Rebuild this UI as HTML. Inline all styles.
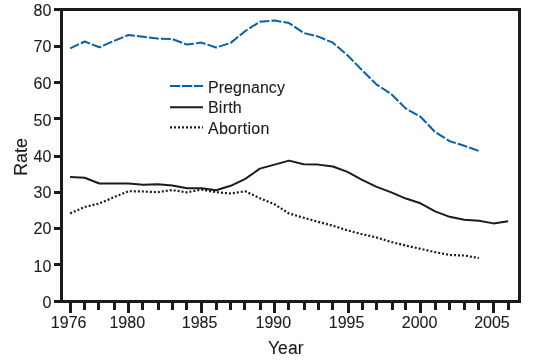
<!DOCTYPE html>
<html><head><meta charset="utf-8"><style>
html,body{margin:0;padding:0;background:#fff;}
body{width:533px;height:362px;overflow:hidden;position:relative;}
svg{position:absolute;left:0;top:0;will-change:transform;}
text{font-family:"Liberation Sans",sans-serif;fill:#1e1a1b;stroke:#1e1a1b;stroke-width:0.1px;}
</style></head><body>
<svg width="533" height="362" viewBox="0 0 533 362">
<g fill="#1e1a1b" shape-rendering="crispEdges">
<rect x="60" y="8" width="461" height="3"/>
<rect x="60" y="300" width="461" height="3"/>
<rect x="60" y="8" width="3" height="295"/>
<rect x="518" y="8" width="3" height="295"/>
<rect x="54" y="8" width="6" height="3"/>
<rect x="54" y="45" width="6" height="3"/>
<rect x="54" y="81" width="6" height="3"/>
<rect x="54" y="117" width="6" height="3"/>
<rect x="54" y="155" width="6" height="3"/>
<rect x="54" y="191" width="6" height="3"/>
<rect x="54" y="227" width="6" height="3"/>
<rect x="54" y="263" width="6" height="3"/>
<rect x="54" y="300" width="6" height="3"/>
<rect x="69" y="303" width="3" height="10"/>
<rect x="83" y="303" width="3" height="7"/>
<rect x="97" y="303" width="3" height="7"/>
<rect x="113" y="303" width="3" height="7"/>
<rect x="127" y="303" width="3" height="10"/>
<rect x="141" y="303" width="3" height="7"/>
<rect x="157" y="303" width="3" height="7"/>
<rect x="171" y="303" width="3" height="7"/>
<rect x="185" y="303" width="3" height="7"/>
<rect x="200" y="303" width="3" height="10"/>
<rect x="215" y="303" width="3" height="7"/>
<rect x="229" y="303" width="3" height="7"/>
<rect x="243" y="303" width="3" height="7"/>
<rect x="259" y="303" width="3" height="7"/>
<rect x="273" y="303" width="3" height="10"/>
<rect x="287" y="303" width="3" height="7"/>
<rect x="303" y="303" width="3" height="7"/>
<rect x="317" y="303" width="3" height="7"/>
<rect x="331" y="303" width="3" height="7"/>
<rect x="347" y="303" width="3" height="10"/>
<rect x="361" y="303" width="3" height="7"/>
<rect x="375" y="303" width="3" height="7"/>
<rect x="391" y="303" width="3" height="7"/>
<rect x="404" y="303" width="3" height="7"/>
<rect x="419" y="303" width="3" height="10"/>
<rect x="434" y="303" width="3" height="7"/>
<rect x="448" y="303" width="3" height="7"/>
<rect x="463" y="303" width="3" height="7"/>
<rect x="477" y="303" width="3" height="7"/>
<rect x="492" y="303" width="3" height="10"/>
<rect x="507" y="303" width="3" height="7"/>
</g>
<g font-size="16">
<text x="51.3" y="16" text-anchor="end">80</text><text x="51.3" y="52" text-anchor="end">70</text><text x="51.3" y="89" text-anchor="end">60</text><text x="51.3" y="126" text-anchor="end">50</text><text x="51.3" y="162" text-anchor="end">40</text><text x="51.3" y="198" text-anchor="end">30</text><text x="51.3" y="234" text-anchor="end">20</text><text x="51.3" y="272" text-anchor="end">10</text><text x="51.3" y="308" text-anchor="end">0</text>
<text x="50.85" y="328">1976</text><text x="109.45" y="328">1980</text><text x="181.8" y="328">1985</text><text x="255.55" y="328">1990</text><text x="328.8" y="328">1995</text><text x="401.8" y="328">2000</text><text x="474.17" y="328">2005</text>
</g>
<text x="268" y="354" font-size="17.6">Year</text>
<text transform="translate(27.2,176) rotate(-90)" font-size="18">Rate</text>
<g fill="none" stroke-linejoin="round">
<polyline points="70.10,48.30 84.70,41.50 99.30,47.30 113.90,40.90 128.50,35.00 143.10,36.80 157.70,38.60 172.30,39.00 186.90,44.60 201.50,42.60 216.10,47.50 230.70,42.90 245.30,31.00 259.90,21.70 274.50,20.50 289.10,23.10 303.70,33.00 318.30,36.60 332.90,42.70 347.50,55.30 362.10,70.20 376.70,84.60 391.30,94.10 405.90,108.60 420.50,116.70 435.10,132.00 449.70,141.20 464.30,145.80 478.90,151.00" stroke="#0560ad" stroke-width="2.0" stroke-dasharray="9.9,2.13" stroke-dashoffset="0.11"/>
<polyline points="70.10,177.03 84.70,177.77 99.30,183.50 113.90,183.50 128.50,183.50 143.10,184.70 157.70,184.33 172.30,185.43 186.90,188.35 201.50,188.35 216.10,190.18 230.70,185.80 245.30,178.86 259.90,168.64 274.50,164.62 289.10,160.61 303.70,164.26 318.30,164.62 332.90,166.45 347.50,171.93 362.10,179.96 376.70,186.89 391.30,192.37 405.90,198.57 420.50,203.31 435.10,211.34 449.70,216.82 464.30,219.74 478.90,220.83 493.50,223.39 508.10,221.20" stroke="#1e1a1b" stroke-width="2.0"/>
<polyline points="70.10,213.40 84.70,207.00 99.30,203.50 113.90,197.20 128.50,191.20 143.10,191.50 157.70,192.20 172.30,190.00 186.90,192.40 201.50,189.60 216.10,192.20 230.70,193.50 245.30,191.30 259.90,198.20 274.50,204.30 289.10,213.50 303.70,217.70 318.30,221.90 332.90,225.70 347.50,230.40 362.10,234.20 376.70,237.50 391.30,242.00 405.90,245.60 420.50,248.80 435.10,252.10 449.70,255.00 464.30,255.50 478.90,258.10" stroke="#1e1a1b" stroke-width="2.2" stroke-dasharray="2,2" stroke-dashoffset="0"/>
<line x1="170" y1="86" x2="203" y2="86" stroke="#0560ad" stroke-width="2.0" stroke-dasharray="10.3,1.7"/>
<line x1="170" y1="107.2" x2="203" y2="107.2" stroke="#1e1a1b" stroke-width="2.0"/>
<line x1="170" y1="127.4" x2="203" y2="127.4" stroke="#1e1a1b" stroke-width="2.2" stroke-dasharray="2,2"/>
</g>
<g font-size="16">
<text x="208" y="93" letter-spacing="0.05">Pregnancy</text>
<text x="208" y="113.3" letter-spacing="0.2">Birth</text>
<text x="208" y="134" letter-spacing="0.24">Abortion</text>
</g>
</svg>
</body></html>
